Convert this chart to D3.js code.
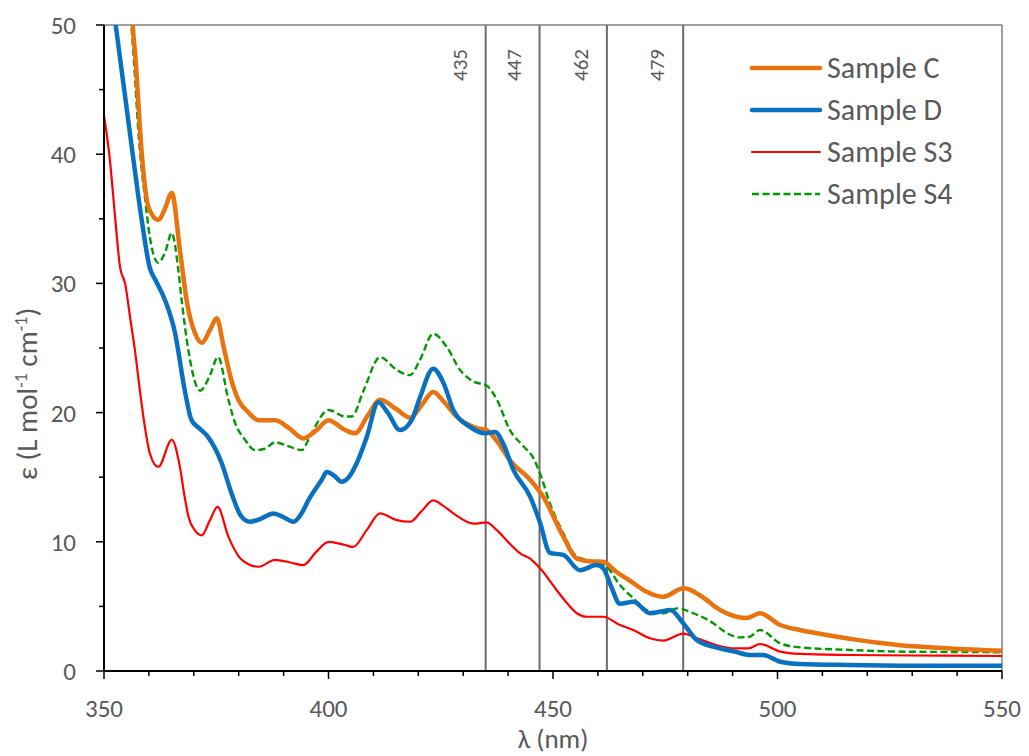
<!DOCTYPE html>
<html><head><meta charset="utf-8">
<script src="https://cdn.jsdelivr.net/npm/d3@7"></script>
<style>
html,body{margin:0;padding:0;background:#fff;}
text{font-family:Carlito,Lato,"Liberation Sans",sans-serif;fill:#595959;}
</style></head>
<body><svg id="c" width="1029" height="756"></svg>
<script>
const xTicks = [350,400,450,500,550];
const yTicks = [0,10,20,30,40,50];
const markers = [435,447,462,479];
const seriesNames = ["Sample C","Sample D","Sample S3","Sample S4"];

const sampleC = [[355.8,55],[356.4,50],[357,47.5],[358.4,40.1],[359.9,35.9],[362.1,34.9],[363.6,35.8],[365.1,37.0],[366.9,32.6],[368.5,28.5],[370.2,26.2],[371.8,25.4],[373.6,26.4],[375.1,27.3],[376.7,25.0],[378.3,22.6],[379.9,21.0],[382.2,20.0],[384.4,19.4],[388.1,19.4],[391.2,18.8],[394.4,18.0],[397.2,18.6],[400,19.4],[403.7,18.65],[405.9,18.4],[408.8,19.8],[411.5,21.0],[415,20.3],[418.2,19.6],[420.8,20.6],[423.3,21.6],[425.8,20.8],[428.5,19.7],[433,18.8],[435.2,18.65],[437.5,17.8],[440.4,16.3],[444.9,14.8],[447.8,13.5],[452.3,10.4],[455.3,8.7],[458,8.5],[461.2,8.46],[464,7.7],[467.1,7.0],[470.5,6.2],[474.6,5.75],[479,6.4],[484.2,5.5],[486.4,4.9],[490.9,4.2],[493.2,4.1],[496.1,4.47],[500.6,3.56],[505,3.17],[510,2.85],[516.1,2.5],[522,2.2],[527.3,2.0],[538.4,1.75],[550,1.57]];

const sampleD = [[351.5,53],[352.6,50],[354.5,45],[356.4,40],[358.4,34.9],[360.2,31.2],[361.4,30.3],[363.6,28.7],[365.8,26.2],[368,21.7],[369.5,19.4],[371.2,18.8],[373.2,18.1],[376.2,16.1],[378.4,13.75],[380.5,12.0],[382.5,11.55],[385,11.8],[387.7,12.2],[390,11.9],[392.2,11.55],[394,12.2],[395.5,13.2],[398.5,14.8],[399.6,15.4],[401.3,15.1],[402.9,14.65],[404.5,15.0],[406.3,16.1],[408.5,18.1],[411.1,20.8],[413.2,20.0],[415.9,18.65],[418.5,19.4],[420.4,21.2],[423.3,23.4],[425.6,22.3],[427.8,20.2],[431.5,18.9],[434.9,18.4],[437.1,18.5],[438.9,17.6],[441.2,15.55],[444.9,13.5],[447.1,11.5],[449.3,9.15],[452.3,8.98],[456,7.8],[459.7,8.2],[461.2,7.95],[463,6.5],[464.9,5.2],[467.9,5.36],[471.6,4.47],[474,4.6],[476.1,4.72],[479,3.7],[482,2.4],[485.7,1.88],[490.5,1.5],[493.9,1.24],[496.8,1.24],[500.6,0.72],[505,0.54],[516.1,0.46],[527.3,0.41],[540,0.4],[550,0.41]];

const sampleS3 = [[350,43],[351.3,39.6],[352.4,35.4],[353.6,31.2],[354.7,30.0],[355.8,27.4],[356.9,24.8],[358,21.7],[359.1,18.9],[360.2,16.85],[362.1,15.8],[365.1,17.9],[366.9,15.8],[368,13.4],[368.8,11.95],[370.2,10.9],[371.8,10.5],[373.5,11.6],[375.3,12.7],[377.7,10.4],[380.7,8.6],[384.4,8.07],[388.1,8.6],[391.5,8.4],[394.4,8.2],[397.2,9.2],[400,10.0],[403.7,9.75],[405.5,9.6],[408.5,10.9],[411.5,12.2],[415,11.7],[418.2,11.55],[420.8,12.4],[423.3,13.2],[425.5,12.8],[427.8,12.2],[432.3,11.4],[435.2,11.5],[437.5,10.9],[439.7,10.1],[442.7,9.1],[444.9,8.7],[447.5,7.8],[450.8,6.27],[453,5.3],[455.3,4.47],[457.5,4.2],[461.2,4.2],[464.9,3.56],[467.9,3.17],[471.6,2.53],[474.6,2.35],[479,2.9],[482.7,2.45],[486.4,2.0],[490.2,1.75],[493.5,1.75],[496.1,2.09],[500.6,1.5],[505,1.32],[516,1.24],[530,1.2],[550,1.16]];

const sampleS4 = [[355.5,53],[356.1,50],[356.9,46],[357.6,42],[358.4,38.8],[359.1,36.7],[360.2,33.6],[362.1,31.6],[363.6,32.4],[365.1,33.9],[366.5,31.2],[367.3,28.7],[368.8,24.8],[371.4,21.7],[373.5,22.8],[375.4,24.3],[377.7,21.0],[379.2,19.2],[381.4,17.9],[383.6,17.1],[385.8,17.2],[388.1,17.7],[391,17.4],[394,17.1],[396.2,18.4],[400,20.2],[403.7,19.7],[405.2,19.7],[407.8,21.7],[411.5,24.3],[415.2,23.3],[418.2,22.9],[420.4,24.1],[423.3,26.1],[426.3,25.1],[429.3,23.3],[432.3,22.4],[435.2,22.1],[437.5,21.0],[440.4,18.65],[443.4,17.4],[445.6,16.5],[447.1,15.3],[449.3,13.0],[452.3,10.65],[455.3,8.85],[457.5,8.6],[461.9,8.07],[464.9,6.66],[467.9,5.63],[470.9,4.72],[474.6,4.47],[477.6,4.85],[481.3,4.47],[485.7,3.7],[488,3.1],[491.6,2.6],[493.8,2.65],[496.1,3.17],[500.6,2.14],[505,1.83],[516.1,1.63],[527.3,1.5],[540,1.47],[550,1.45]];

const m = {l:104, r:1002, t:25, b:671};
const x = d3.scaleLinear().domain([350,550]).range([m.l,m.r]);
const y = d3.scaleLinear().domain([0,50]).range([m.b,m.t]);
const svg = d3.select("#c");

svg.append("defs").append("clipPath").attr("id","clip")
  .append("rect").attr("x",m.l).attr("y",m.t).attr("width",m.r-m.l).attr("height",m.b-m.t);

svg.append("line").attr("x1",m.l).attr("x2",m.r).attr("y1",m.t).attr("y2",m.t).attr("stroke","#808080").attr("stroke-width",1.5);
svg.append("line").attr("x1",m.r).attr("x2",m.r).attr("y1",m.t).attr("y2",m.b).attr("stroke","#808080").attr("stroke-width",1.5);

const mk = svg.append("g");
markers.forEach(v=>{
  mk.append("line").attr("x1",x(v)).attr("x2",x(v)).attr("y1",m.t).attr("y2",m.b)
    .attr("stroke","#6b6b6b").attr("stroke-width",2);
  mk.append("text").attr("transform",`translate(${x(v)-19},65) rotate(-90)`)
    .attr("text-anchor","middle").attr("font-size",21).text(v);
});

const line = d3.line().x(d=>x(d[0])).y(d=>y(d[1])).curve(d3.curveMonotoneX);
const styles = [
  {data:sampleC, color:"#E8730F", w:4.5, dash:null},
  {data:sampleD, color:"#0A70C0", w:4.5, dash:null},
  {data:sampleS3, color:"#FF0000", w:2.2, dash:null},
  {data:sampleS4, color:"#009A00", w:2.4, dash:"7,3.5"}
];
const g = svg.append("g").attr("clip-path","url(#clip)");
[2,3,0,1].forEach(i=>{
  const s = styles[i];
  g.append("path").attr("d",line(s.data)).attr("fill","none")
    .attr("stroke",s.color).attr("stroke-width",s.w).attr("stroke-linejoin","round")
    .attr("stroke-dasharray",s.dash);
});

const xAxis = svg.append("g").attr("transform",`translate(0,${m.b})`);
xAxis.append("line").attr("x1",m.l).attr("x2",m.r).attr("stroke","#000").attr("stroke-width",2);
d3.range(350,551,10).forEach(v=>{
  const major = v%50===0;
  xAxis.append("line").attr("x1",x(v)).attr("x2",x(v)).attr("y1",0).attr("y2",major?8:5)
    .attr("stroke","#000").attr("stroke-width",1.5);
});
xTicks.forEach(v=>{
  xAxis.append("text").attr("x",x(v)).attr("y",46).attr("text-anchor","middle").attr("font-size",25).text(v);
});
const yAxis = svg.append("g").attr("transform",`translate(${m.l},0)`);
yAxis.append("line").attr("y1",m.t).attr("y2",m.b).attr("stroke","#000").attr("stroke-width",2);
d3.range(0,51,5).forEach(v=>{
  const major = v%10===0;
  yAxis.append("line").attr("x1",major?-8:-5).attr("x2",0).attr("y1",y(v)).attr("y2",y(v))
    .attr("stroke","#000").attr("stroke-width",1.5);
});
yTicks.forEach(v=>{
  yAxis.append("text").attr("x",-28).attr("y",y(v)+9).attr("text-anchor","end").attr("font-size",25).text(v);
});

svg.append("text").attr("x",(m.l+m.r)/2).attr("y",748).attr("text-anchor","middle").attr("font-size",27).text("λ (nm)");
const yt = svg.append("text").attr("transform","translate(37,394) rotate(-90)").attr("text-anchor","middle").attr("font-size",29);
yt.append("tspan").text("ε (L mol");
yt.append("tspan").attr("dy",-10).attr("font-size",18).text("-1");
yt.append("tspan").attr("dy",10).text(" cm");
yt.append("tspan").attr("dy",-10).attr("font-size",18).text("-1");
yt.append("tspan").attr("dy",10).text(")");

const lg = svg.append("g");
const ly = [68,110,152,194];
styles.forEach((s,i)=>{
  lg.append("line").attr("x1",752).attr("x2",820).attr("y1",ly[i]).attr("y2",ly[i])
    .attr("stroke",s.color).attr("stroke-width",s.w).attr("stroke-linecap",s.dash?"butt":"round")
    .attr("stroke-dasharray",s.dash);
  lg.append("text").attr("x",827).attr("y",ly[i]+10).attr("font-size",30).text(seriesNames[i]);
});
</script></body></html>
